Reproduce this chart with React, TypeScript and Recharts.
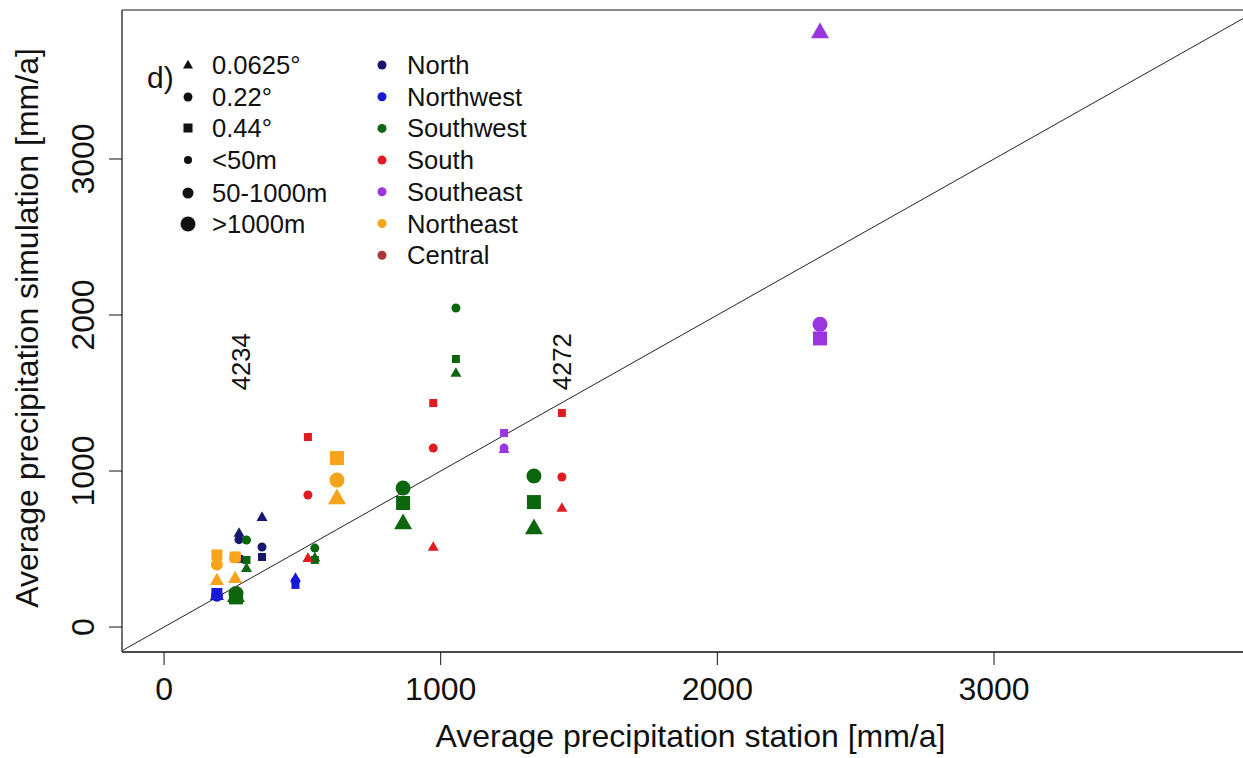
import { ScatterChart, Scatter, XAxis, YAxis, ReferenceLine, Legend } from 'recharts';

const regions = ['North', 'Northwest', 'Southwest', 'South', 'Southeast', 'Northeast', 'Central'];
const regionColors = ['#16166e', '#1818d8', '#0d650d', '#e01b22', '#9b35e0', '#f7a31c', '#a83838'];
const resolutions = ['0.0625°', '0.22°', '0.44°'];
const elevationClasses = ['<50m', '50-1000m', '>1000m'];

// one entry per station
const stationRegion = ['North', 'North', 'Northwest', 'Northwest', 'Southwest', 'Southwest', 'Southwest', 'South', 'Northeast', 'Northeast', 'Northeast', 'Southwest', 'South', 'Southwest', 'Southeast', 'Southwest', 'South', 'Southeast'];
const stationObs = [354, 271, 191, 475, 260, 298, 545, 520, 191, 257, 625, 864, 973, 1055, 1229, 1337, 1438, 2371];
const sim0625 = [705, 603, 205, 315, 200, 378, 445, 442, 301, 314, 827, 667, 513, 1628, 1140, 635, 763, 3814];
const sim022 = [513, 560, 200, 295, 215, 558, 506, 846, 400, 445, 942, 891, 1147, 2045, 1147, 968, 962, 1940];
const sim044 = [449, 436, 215, 270, 190, 430, 430, 1218, 462, 449, 1083, 795, 1436, 1718, 1244, 801, 1372, 1850];
const stationElev = [0, 0, 1, 0, 2, 0, 0, 0, 1, 1, 2, 2, 0, 0, 0, 2, 0, 2];

const annotationText = ['4234', '4272'];
const annotationX = [278, 1438];
const annotationY = [1700, 1700];

const xTicks = [0, 1000, 2000, 3000];
const yTicks = [0, 1000, 2000, 3000];
const xDomain = [-152, 3900];
const yDomain = [-160, 3955];

const FONT = '"Liberation Sans", Arial, Helvetica, sans-serif';

// marker width by [elevation class][resolution]
const markerSize = [
  [11, 9, 8],
  [14, 12, 11],
  [18, 15, 14],
];

function drawSymbol(res: number, cx: number, cy: number, s: number, fill: string) {
  if (res === 0) {
    const h = s * 0.87;
    return (
      <polygon
        points={`${cx},${cy - h * 0.6} ${cx - s / 2},${cy + h * 0.4} ${cx + s / 2},${cy + h * 0.4}`}
        fill={fill}
      />
    );
  }
  if (res === 1) return <circle cx={cx} cy={cy} r={s / 2} fill={fill} />;
  return <rect x={cx - s / 2} y={cy - s / 2} width={s} height={s} fill={fill} />;
}

const seriesData = regions.map((region) => {
  const pts: { x: number; y: number; res: number; elev: number }[] = [];
  stationRegion.forEach((r, i) => {
    if (r !== region) return;
    [sim0625, sim022, sim044].forEach((sim, res) => {
      pts.push({ x: stationObs[i], y: sim[i], res, elev: stationElev[i] });
    });
  });
  return pts;
});

const annotations = annotationText.map((t, i) => ({ x: annotationX[i], y: annotationY[i], text: t }));

const XTick = (props: any) => {
  const { x, y, payload } = props;
  return (
    <text x={x} y={y + 33} textAnchor="middle" fontSize={32} fill="#111" fontFamily={FONT}>
      {payload.value}
    </text>
  );
};

const YTick = (props: any) => {
  const { x, y, payload } = props;
  const tx = x - 13;
  return (
    <text
      x={tx}
      y={y}
      textAnchor="middle"
      fontSize={32}
      fill="#111"
      fontFamily={FONT}
      transform={`rotate(-90 ${tx} ${y})`}
    >
      {payload.value}
    </text>
  );
};

function LegendBox() {
  const shapeRows = [65, 97, 128, 160, 193, 224];
  const regionRows = regions.map((_, i) => 65 + i * 31.7);
  const elevSizes = [8, 11, 15];
  return (
    <svg width={620} height={290} style={{ display: 'block' }}>
      <text x={147} y={88} fontSize={30} fill="#111" fontFamily={FONT}>
        d)
      </text>
      {resolutions.map((label, i) => (
        <g key={label}>
          {drawSymbol(i, 188, shapeRows[i], i === 0 ? 10 : 9, '#111')}
          <text x={212} y={shapeRows[i] + 9} fontSize={25.6} fill="#111" fontFamily={FONT}>
            {label}
          </text>
        </g>
      ))}
      {elevationClasses.map((label, i) => (
        <g key={label}>
          <circle cx={188} cy={shapeRows[i + 3]} r={elevSizes[i] / 2} fill="#111" />
          <text x={212} y={shapeRows[i + 3] + 9} fontSize={25.6} fill="#111" fontFamily={FONT}>
            {label}
          </text>
        </g>
      ))}
      {regions.map((label, i) => (
        <g key={label}>
          <circle cx={382} cy={regionRows[i]} r={4.5} fill={regionColors[i]} />
          <text x={407} y={regionRows[i] + 9} fontSize={25.6} fill="#111" fontFamily={FONT}>
            {label}
          </text>
        </g>
      ))}
    </svg>
  );
}

export default function App() {
  return (
    <div style={{ position: 'absolute', left: 0, top: 0, width: 1243, height: 758, overflow: 'hidden', background: '#fff', fontFamily: FONT }}>
      <ScatterChart width={1243} height={758} margin={{ top: 10, right: 0, bottom: 0, left: 0 }}>
        <XAxis
          type="number"
          dataKey="x"
          domain={xDomain}
          ticks={xTicks}
          allowDataOverflow
          height={106}
          tickSize={13}
          tick={<XTick />}
          axisLine={{ stroke: '#111', strokeWidth: 1.6 }}
          tickLine={{ stroke: '#111' }}
          label={{
            content: (p: any) => {
              const vb = p.viewBox;
              return (
                <text x={vb.x + vb.width / 2 + 8} y={vb.y + vb.height - 11} textAnchor="middle" fontSize={32} fill="#111" fontFamily={FONT}>
                  Average precipitation station [mm/a]
                </text>
              );
            },
          }}
        />
        <YAxis
          type="number"
          dataKey="y"
          domain={yDomain}
          ticks={yTicks}
          allowDataOverflow
          width={122}
          tickSize={13}
          tick={<YTick />}
          axisLine={{ stroke: '#333', strokeWidth: 1.4 }}
          tickLine={{ stroke: '#111' }}
          label={{
            content: (p: any) => {
              const vb = p.viewBox;
              const lx = vb.x + 38;
              const ly = vb.y + vb.height / 2 - 3;
              return (
                <text x={lx} y={ly} textAnchor="middle" fontSize={32} fill="#111" fontFamily={FONT} transform={`rotate(-90 ${lx} ${ly})`}>
                  Average precipitation simulation [mm/a]
                </text>
              );
            },
          }}
        />
        <ReferenceLine y={yDomain[1]} stroke="#8a8a8a" strokeWidth={2} />
        <ReferenceLine
          segment={[
            { x: xDomain[0], y: xDomain[0] },
            { x: xDomain[1], y: xDomain[1] },
          ]}
          stroke="#222"
          strokeWidth={1}
          ifOverflow="hidden"
        />
        {regions.map((region, ri) => (
          <Scatter
            key={region}
            name={region}
            data={seriesData[ri]}
            fill={regionColors[ri]}
            isAnimationActive={false}
            shape={(p: any) => {
              if (p.cx == null || p.cy == null) return <g />;
              const d = p.payload;
              return drawSymbol(d.res, p.cx, p.cy, markerSize[d.elev][d.res], regionColors[ri]);
            }}
          />
        ))}
        <Scatter
          name="annotations"
          data={annotations}
          isAnimationActive={false}
          shape={(p: any) => {
            if (p.cx == null || p.cy == null) return <g />;
            const tx = p.cx + 9;
            return (
              <text x={tx} y={p.cy} textAnchor="middle" fontSize={25.6} fill="#111" fontFamily={FONT} transform={`rotate(-90 ${tx} ${p.cy})`}>
                {p.payload.text}
              </text>
            );
          }}
        />
        <Legend
          layout="vertical"
          align="center"
          verticalAlign="middle"
          content={() => <LegendBox />}
          wrapperStyle={{ position: 'absolute', left: 0, top: 0, width: 620, height: 290 }}
        />
      </ScatterChart>
    </div>
  );
}
